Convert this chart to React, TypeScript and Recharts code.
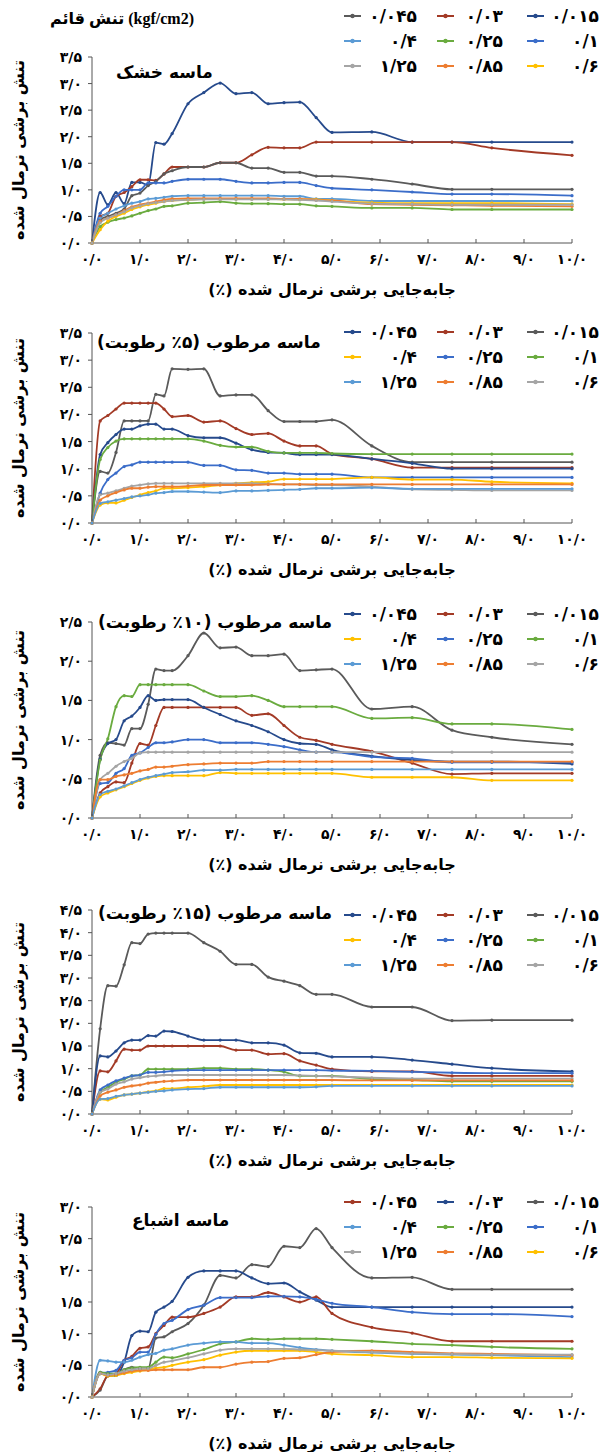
import React from "react";
import { LineChart, Line, XAxis, YAxis } from "recharts";

// shared x grid (normalized shear displacement, %)
const X = [0, 0.17, 0.33, 0.5, 0.67, 0.83, 1.0, 1.17, 1.33, 1.5, 1.67, 2.0, 2.33, 2.67, 3.0, 3.33, 3.67, 4.0, 4.33, 4.67, 5.0, 5.83, 6.67, 7.5, 8.33, 10.0];

// normal stress levels (kgf/cm2), in legend order
const STRESSES = ["0.015", "0.03", "0.045", "0.1", "0.25", "0.4", "0.6", "0.85", "1.25"];

// panel 1 - dry sand
const p1_015 = [0, 0.95, 0.72, 0.95, 0.74, 1.14, 1.14, 1.09, 1.89, 1.86, 2.06, 2.62, 2.83, 3.01, 2.81, 2.83, 2.62, 2.64, 2.65, 2.36, 2.08, 2.09, 1.9, 1.9, 1.9, 1.9];
const p1_03 = [0, 0.5, 0.56, 0.88, 0.95, 1.06, 1.19, 1.19, 1.18, 1.3, 1.43, 1.43, 1.43, 1.51, 1.51, 1.66, 1.8, 1.79, 1.79, 1.9, 1.9, 1.9, 1.9, 1.9, 1.79, 1.65];
const p1_045 = [0, 0.44, 0.5, 0.56, 0.64, 0.89, 0.94, 1.08, 1.16, 1.3, 1.36, 1.43, 1.43, 1.51, 1.51, 1.41, 1.41, 1.33, 1.33, 1.26, 1.26, 1.2, 1.11, 1.01, 1.01, 1.01];
const p1_1 = [0, 0.56, 0.69, 0.88, 1.0, 1.0, 1.0, 1.13, 1.13, 1.13, 1.16, 1.2, 1.2, 1.2, 1.16, 1.13, 1.13, 1.14, 1.14, 1.08, 1.03, 1.0, 0.96, 0.92, 0.92, 0.89];
const p1_25 = [0, 0.31, 0.39, 0.44, 0.47, 0.51, 0.56, 0.61, 0.64, 0.69, 0.7, 0.75, 0.76, 0.78, 0.75, 0.74, 0.74, 0.73, 0.73, 0.7, 0.69, 0.66, 0.66, 0.63, 0.63, 0.63];
const p1_4 = [0, 0.47, 0.56, 0.64, 0.7, 0.75, 0.78, 0.83, 0.84, 0.86, 0.88, 0.89, 0.89, 0.89, 0.89, 0.89, 0.89, 0.88, 0.88, 0.83, 0.83, 0.79, 0.79, 0.79, 0.79, 0.79];
const p1_6 = [0, 0.25, 0.41, 0.5, 0.56, 0.63, 0.68, 0.72, 0.75, 0.78, 0.8, 0.81, 0.83, 0.83, 0.83, 0.83, 0.83, 0.82, 0.82, 0.82, 0.8, 0.76, 0.75, 0.75, 0.75, 0.73];
const p1_85 = [0, 0.41, 0.47, 0.53, 0.61, 0.68, 0.72, 0.75, 0.78, 0.81, 0.83, 0.84, 0.84, 0.84, 0.84, 0.84, 0.84, 0.83, 0.83, 0.81, 0.8, 0.73, 0.72, 0.71, 0.7, 0.69];
const p1_125 = [0, 0.38, 0.47, 0.53, 0.59, 0.66, 0.7, 0.74, 0.76, 0.78, 0.8, 0.81, 0.82, 0.82, 0.82, 0.82, 0.82, 0.82, 0.81, 0.8, 0.78, 0.74, 0.73, 0.72, 0.72, 0.72];

// panel 2 - moist sand 5%
const p2_015 = [0, 0.95, 0.92, 1.3, 1.88, 1.88, 1.88, 1.88, 2.37, 2.34, 2.84, 2.83, 2.84, 2.34, 2.36, 2.36, 2.07, 1.87, 1.87, 1.87, 1.9, 1.42, 1.12, 1.12, 1.12, 1.12];
const p2_03 = [0, 1.88, 1.98, 2.1, 2.21, 2.21, 2.21, 2.21, 2.21, 2.1, 1.96, 1.98, 1.86, 1.88, 1.74, 1.63, 1.65, 1.51, 1.42, 1.42, 1.27, 1.18, 1.02, 1.02, 1.02, 1.02];
const p2_045 = [0, 1.26, 1.48, 1.63, 1.73, 1.73, 1.79, 1.82, 1.82, 1.73, 1.73, 1.61, 1.57, 1.57, 1.47, 1.35, 1.3, 1.29, 1.26, 1.26, 1.26, 1.18, 1.1, 1.0, 1.0, 1.0];
const p2_1 = [0, 1.17, 1.39, 1.51, 1.55, 1.55, 1.55, 1.55, 1.55, 1.55, 1.55, 1.55, 1.51, 1.43, 1.4, 1.4, 1.32, 1.29, 1.29, 1.29, 1.28, 1.27, 1.27, 1.27, 1.27, 1.27];
const p2_25 = [0, 0.55, 0.8, 0.92, 1.04, 1.07, 1.12, 1.12, 1.12, 1.12, 1.12, 1.12, 1.06, 1.06, 0.98, 0.97, 0.92, 0.92, 0.9, 0.9, 0.9, 0.84, 0.84, 0.84, 0.84, 0.84];
const p2_4 = [0, 0.33, 0.37, 0.37, 0.42, 0.47, 0.52, 0.56, 0.59, 0.64, 0.64, 0.65, 0.67, 0.7, 0.73, 0.75, 0.76, 0.81, 0.81, 0.81, 0.81, 0.84, 0.8, 0.8, 0.76, 0.73];
const p2_6 = [0, 0.52, 0.55, 0.59, 0.64, 0.68, 0.7, 0.72, 0.73, 0.73, 0.73, 0.73, 0.73, 0.73, 0.73, 0.73, 0.72, 0.71, 0.71, 0.7, 0.7, 0.67, 0.62, 0.61, 0.6, 0.6];
const p2_85 = [0, 0.42, 0.5, 0.56, 0.61, 0.64, 0.64, 0.66, 0.67, 0.67, 0.67, 0.68, 0.7, 0.7, 0.7, 0.7, 0.71, 0.71, 0.71, 0.71, 0.71, 0.71, 0.71, 0.71, 0.71, 0.71];
const p2_125 = [0, 0.36, 0.39, 0.42, 0.45, 0.48, 0.5, 0.52, 0.55, 0.56, 0.58, 0.58, 0.57, 0.56, 0.59, 0.59, 0.6, 0.61, 0.62, 0.64, 0.64, 0.65, 0.63, 0.63, 0.63, 0.63];

// panel 3 - moist sand 10%
const p3_015 = [0, 0.8, 0.96, 0.95, 0.93, 1.14, 1.14, 1.45, 1.9, 1.88, 1.88, 2.07, 2.36, 2.17, 2.18, 2.07, 2.07, 2.09, 1.88, 1.89, 1.9, 1.39, 1.42, 1.12, 1.03, 0.94];
const p3_03 = [0, 0.32, 0.4, 0.46, 0.45, 0.7, 0.95, 0.93, 1.18, 1.41, 1.41, 1.41, 1.41, 1.41, 1.41, 1.31, 1.33, 1.18, 1.03, 0.99, 0.94, 0.85, 0.7, 0.56, 0.57, 0.57];
const p3_045 = [0, 0.75, 0.95, 1.0, 1.24, 1.3, 1.41, 1.56, 1.5, 1.51, 1.51, 1.51, 1.41, 1.32, 1.24, 1.18, 1.1, 1.0, 0.95, 0.94, 0.87, 0.79, 0.74, 0.72, 0.72, 0.69];
const p3_1 = [0, 0.74, 1.01, 1.42, 1.56, 1.55, 1.7, 1.7, 1.7, 1.7, 1.7, 1.7, 1.62, 1.55, 1.55, 1.56, 1.5, 1.42, 1.42, 1.42, 1.42, 1.27, 1.28, 1.2, 1.2, 1.13];
const p3_25 = [0, 0.44, 0.45, 0.57, 0.63, 0.8, 0.83, 0.9, 0.96, 0.96, 0.97, 1.0, 1.0, 0.96, 0.96, 0.96, 0.94, 0.91, 0.87, 0.84, 0.84, 0.78, 0.76, 0.71, 0.71, 0.71];
const p3_4 = [0, 0.27, 0.32, 0.36, 0.4, 0.44, 0.48, 0.51, 0.53, 0.54, 0.54, 0.54, 0.54, 0.58, 0.57, 0.57, 0.57, 0.57, 0.57, 0.57, 0.57, 0.52, 0.52, 0.52, 0.48, 0.48];
const p3_6 = [0, 0.49, 0.57, 0.66, 0.72, 0.76, 0.83, 0.84, 0.84, 0.84, 0.84, 0.84, 0.84, 0.84, 0.84, 0.84, 0.84, 0.84, 0.84, 0.84, 0.84, 0.84, 0.84, 0.84, 0.84, 0.84];
const p3_85 = [0, 0.49, 0.49, 0.53, 0.55, 0.57, 0.6, 0.62, 0.65, 0.65, 0.66, 0.68, 0.69, 0.7, 0.7, 0.7, 0.72, 0.72, 0.72, 0.72, 0.72, 0.72, 0.72, 0.72, 0.72, 0.72];
const p3_125 = [0, 0.3, 0.34, 0.37, 0.41, 0.45, 0.49, 0.52, 0.54, 0.56, 0.58, 0.59, 0.61, 0.61, 0.62, 0.62, 0.62, 0.62, 0.62, 0.62, 0.62, 0.62, 0.62, 0.62, 0.62, 0.62];

// panel 4 - moist sand 15%
const p4_015 = [0, 1.88, 2.83, 2.82, 3.29, 3.78, 3.76, 3.97, 3.99, 3.99, 3.99, 3.99, 3.78, 3.59, 3.3, 3.3, 3.02, 2.93, 2.83, 2.64, 2.64, 2.36, 2.36, 2.06, 2.07, 2.07];
const p4_03 = [0, 0.95, 0.93, 1.17, 1.43, 1.41, 1.41, 1.5, 1.5, 1.5, 1.5, 1.5, 1.5, 1.5, 1.41, 1.41, 1.32, 1.33, 1.17, 1.08, 0.99, 0.94, 0.94, 0.84, 0.84, 0.84];
const p4_045 = [0, 1.28, 1.26, 1.39, 1.57, 1.63, 1.63, 1.73, 1.72, 1.83, 1.82, 1.72, 1.63, 1.63, 1.63, 1.57, 1.57, 1.52, 1.35, 1.34, 1.26, 1.26, 1.19, 1.1, 1.01, 0.94];
const p4_1 = [0, 0.48, 0.59, 0.7, 0.77, 0.84, 0.86, 0.99, 0.99, 0.99, 0.99, 0.99, 1.01, 1.01, 0.99, 0.99, 0.97, 0.93, 0.84, 0.84, 0.84, 0.77, 0.75, 0.72, 0.72, 0.72];
const p4_25 = [0, 0.53, 0.64, 0.73, 0.79, 0.84, 0.86, 0.92, 0.92, 0.93, 0.95, 0.97, 0.97, 0.97, 0.97, 0.97, 0.97, 0.97, 0.97, 0.97, 0.96, 0.95, 0.93, 0.91, 0.9, 0.9];
const p4_4 = [0, 0.33, 0.31, 0.37, 0.42, 0.44, 0.46, 0.49, 0.51, 0.56, 0.56, 0.59, 0.61, 0.64, 0.64, 0.64, 0.64, 0.64, 0.64, 0.64, 0.64, 0.64, 0.64, 0.64, 0.64, 0.64];
const p4_6 = [0, 0.48, 0.55, 0.66, 0.71, 0.77, 0.8, 0.83, 0.84, 0.86, 0.86, 0.86, 0.86, 0.86, 0.86, 0.86, 0.86, 0.86, 0.85, 0.84, 0.83, 0.8, 0.78, 0.78, 0.78, 0.78];
const p4_85 = [0, 0.4, 0.48, 0.53, 0.59, 0.62, 0.64, 0.68, 0.7, 0.72, 0.73, 0.75, 0.75, 0.75, 0.75, 0.75, 0.75, 0.75, 0.75, 0.75, 0.75, 0.74, 0.74, 0.74, 0.74, 0.74];
const p4_125 = [0, 0.33, 0.34, 0.39, 0.42, 0.44, 0.46, 0.48, 0.5, 0.51, 0.53, 0.55, 0.56, 0.59, 0.59, 0.59, 0.59, 0.59, 0.59, 0.6, 0.62, 0.62, 0.62, 0.62, 0.62, 0.62];

// panel 5 - saturated sand
const p5_015 = [0, 0.11, 0.33, 0.34, 0.43, 0.47, 0.45, 0.45, 0.93, 0.95, 1.03, 1.16, 1.45, 1.92, 1.88, 2.09, 2.06, 2.38, 2.36, 2.66, 2.36, 1.88, 1.89, 1.7, 1.7, 1.7];
const p5_03 = [0, 0.39, 0.37, 0.34, 0.55, 0.97, 1.04, 1.03, 1.34, 1.42, 1.51, 1.89, 1.99, 1.99, 1.99, 1.88, 1.79, 1.8, 1.66, 1.53, 1.42, 1.42, 1.42, 1.42, 1.42, 1.42];
const p5_045 = [0, 0.13, 0.34, 0.37, 0.58, 0.64, 0.77, 0.79, 1.0, 1.13, 1.26, 1.26, 1.32, 1.42, 1.58, 1.58, 1.65, 1.58, 1.5, 1.58, 1.32, 1.1, 1.01, 0.88, 0.88, 0.88];
const p5_1 = [0, 0.37, 0.39, 0.42, 0.58, 0.62, 0.71, 0.71, 0.99, 1.16, 1.21, 1.38, 1.45, 1.57, 1.57, 1.57, 1.59, 1.59, 1.58, 1.54, 1.48, 1.42, 1.34, 1.31, 1.31, 1.27];
const p5_25 = [0, 0.39, 0.37, 0.37, 0.43, 0.46, 0.47, 0.47, 0.55, 0.63, 0.62, 0.68, 0.75, 0.84, 0.87, 0.92, 0.91, 0.92, 0.92, 0.92, 0.91, 0.88, 0.84, 0.82, 0.79, 0.76];
const p5_4 = [0, 0.58, 0.57, 0.55, 0.55, 0.58, 0.63, 0.67, 0.69, 0.74, 0.76, 0.82, 0.85, 0.87, 0.87, 0.85, 0.85, 0.82, 0.78, 0.75, 0.73, 0.7, 0.68, 0.67, 0.66, 0.63];
const p5_6 = [0, 0.37, 0.33, 0.34, 0.37, 0.39, 0.41, 0.43, 0.46, 0.47, 0.5, 0.55, 0.59, 0.66, 0.71, 0.73, 0.73, 0.73, 0.73, 0.71, 0.68, 0.66, 0.63, 0.63, 0.62, 0.61];
const p5_85 = [0, 0.37, 0.34, 0.36, 0.38, 0.41, 0.42, 0.42, 0.43, 0.43, 0.43, 0.43, 0.47, 0.47, 0.52, 0.55, 0.56, 0.61, 0.62, 0.67, 0.71, 0.73, 0.71, 0.69, 0.68, 0.66];
const p5_125 = [0, 0.37, 0.35, 0.37, 0.41, 0.43, 0.45, 0.45, 0.5, 0.55, 0.57, 0.62, 0.68, 0.74, 0.76, 0.76, 0.76, 0.76, 0.75, 0.74, 0.73, 0.71, 0.69, 0.68, 0.67, 0.67];

const DARK_BLUE = "#264a8c";
const DARK_RED = "#a33a26";
const DARK_GRAY = "#5a5a5a";
const BLUE = "#3b6dc9";
const GREEN = "#6aab3f";
const LIGHT_BLUE = "#5b9bd5";
const GOLD = "#ffc000";
const ORANGE = "#ed7d31";
const GRAY = "#a5a5a5";

const FONT = "'DejaVu Sans', 'Noto Sans', sans-serif";
const Y_TITLE = "تنش برشی نرمال شده";
const X_TITLE = "جابه‌جایی برشی نرمال شده (٪)\u200F";
const TOP_TITLE = "تنش قائم (kgf/cm2)";

const FA = "۰۱۲۳۴۵۶۷۸۹";
const fa = (s: string) => s.replace(/\d/g, (d) => FA[+d]);
const fmt = (v: number) => fa(v.toFixed(1)).replace(".", "/");
const legendName = (s: string) => fa(s).replace(".", "/");

const panels = [
  {
    label: "ماسه خشک",
    labelLeft: 116,
    labelY: 72,
    yMax: 3.5,
    plotTop: 57,
    plotBottom: 243,
    legendY: 16,
    colors: [DARK_BLUE, DARK_RED, DARK_GRAY, BLUE, GREEN, LIGHT_BLUE, GOLD, ORANGE, GRAY],
    series: [p1_015, p1_03, p1_045, p1_1, p1_25, p1_4, p1_6, p1_85, p1_125],
  },
  {
    label: "ماسه مرطوب (۵٪ رطوبت)",
    labelLeft: 97,
    labelY: 342,
    yMax: 3.5,
    plotTop: 333,
    plotBottom: 523,
    legendY: 332,
    colors: [DARK_GRAY, DARK_RED, DARK_BLUE, GREEN, BLUE, GOLD, GRAY, ORANGE, LIGHT_BLUE],
    series: [p2_015, p2_03, p2_045, p2_1, p2_25, p2_4, p2_6, p2_85, p2_125],
  },
  {
    label: "ماسه مرطوب (۱۰٪ رطوبت)",
    labelLeft: 98,
    labelY: 622,
    yMax: 2.5,
    plotTop: 622,
    plotBottom: 818,
    legendY: 614,
    colors: [DARK_GRAY, DARK_RED, DARK_BLUE, GREEN, BLUE, GOLD, GRAY, ORANGE, LIGHT_BLUE],
    series: [p3_015, p3_03, p3_045, p3_1, p3_25, p3_4, p3_6, p3_85, p3_125],
  },
  {
    label: "ماسه مرطوب (۱۵٪ رطوبت)",
    labelLeft: 98,
    labelY: 913,
    yMax: 4.5,
    plotTop: 910,
    plotBottom: 1114,
    legendY: 915,
    colors: [DARK_GRAY, DARK_RED, DARK_BLUE, GREEN, BLUE, GOLD, GRAY, ORANGE, LIGHT_BLUE],
    series: [p4_015, p4_03, p4_045, p4_1, p4_25, p4_4, p4_6, p4_85, p4_125],
  },
  {
    label: "ماسه اشباع",
    labelLeft: 132,
    labelY: 1220,
    yMax: 3.0,
    plotTop: 1207,
    plotBottom: 1397,
    legendY: 1202,
    colors: [DARK_GRAY, DARK_BLUE, DARK_RED, BLUE, GREEN, LIGHT_BLUE, GOLD, ORANGE, GRAY],
    series: [p5_015, p5_03, p5_045, p5_1, p5_25, p5_4, p5_6, p5_85, p5_125],
  },
];

// legend grid: rows of series indexes, left to right
const LEGEND_ROWS = [
  [2, 1, 0],
  [5, 4, 3],
  [8, 7, 6],
];
const LEGEND_COLS = [
  { marker: 344, textRight: 417 },
  { marker: 437, textRight: 503 },
  { marker: 527, textRight: 599 },
];

function Marker({ color }: { color: string }) {
  return (
    <svg width={17} height={8} style={{ display: "block" }}>
      <line x1={0} y1={4} x2={17} y2={4} stroke={color} strokeWidth={2} />
      <circle cx={8.5} cy={4} r={2.2} fill={color} />
    </svg>
  );
}

function Panel({ p }: { p: (typeof panels)[number] }) {
  const rows = X.map((x, i) => {
    const r: Record<string, number> = { x };
    p.series.forEach((s, k) => (r[`s${k}`] = s[i]));
    return r;
  });
  const yTicks: number[] = [];
  for (let v = 0; v <= p.yMax + 1e-9; v += 0.5) yTicks.push(+v.toFixed(1));
  const plotH = p.plotBottom - p.plotTop;
  const textStyle = { fontFamily: FONT, fontWeight: 700, color: "#000" } as const;

  return (
    <>
      <div style={{ position: "absolute", left: 0, top: p.plotTop - 10 }}>
        <LineChart width={603} height={plotH + 70} data={rows} margin={{ top: 10, right: 31, left: 0, bottom: 0 }}>
          <XAxis
            dataKey="x"
            type="number"
            domain={[0, 10]}
            ticks={[0, 1, 2, 3, 4, 5, 6, 7, 8, 9, 10]}
            interval={0}
            tickFormatter={fmt}
            height={60}
            tickSize={-4}
            tickMargin={15}
            stroke="#555"
            tick={{ fill: "#000", fontSize: 14, fontWeight: 700, fontFamily: FONT }}
            label={{
              value: X_TITLE,
              position: "insideBottom",
              offset: 8,
              style: { fill: "#000", fontSize: 16, fontWeight: 700, fontFamily: FONT, direction: "rtl" },
            }}
          />
          <YAxis
            type="number"
            domain={[0, p.yMax]}
            ticks={yTicks}
            interval={0}
            tickFormatter={fmt}
            width={92}
            tickSize={4}
            tickMargin={6}
            stroke="#555"
            tick={{ fill: "#000", fontSize: 14, fontWeight: 700, fontFamily: FONT }}
            label={{
              value: Y_TITLE,
              angle: -90,
              position: "insideLeft",
              offset: 18,
              style: { textAnchor: "middle", fill: "#000", fontSize: 16, fontWeight: 700, fontFamily: FONT },
            }}
          />
          {p.series.map((_, k) => (
            <Line
              key={k}
              dataKey={`s${k}`}
              type="monotone"
              stroke={p.colors[k]}
              strokeWidth={1.8}
              dot={{ r: 1.6, fill: p.colors[k], stroke: p.colors[k], strokeWidth: 0 }}
              activeDot={false}
              isAnimationActive={false}
            />
          ))}
        </LineChart>
      </div>
      <div
        dir="rtl"
        style={{
          ...textStyle,
          position: "absolute",
          left: p.labelLeft,
          top: p.labelY - 11,
          fontSize: 17,
          lineHeight: "22px",
          whiteSpace: "nowrap",
        }}
      >
        {p.label}
      </div>
      {LEGEND_ROWS.map((row, ri) =>
        row.map((si, ci) => {
          const col = LEGEND_COLS[ci];
          const cy = p.legendY + ri * 25;
          return (
            <div key={`${ri}-${ci}`}>
              <div style={{ position: "absolute", left: col.marker, top: cy - 4 }}>
                <Marker color={p.colors[si]} />
              </div>
              <div
                style={{
                  ...textStyle,
                  position: "absolute",
                  left: col.marker + 19,
                  width: col.textRight - col.marker - 19,
                  textAlign: "right",
                  top: cy - 11,
                  fontSize: 17,
                  lineHeight: "22px",
                }}
              >
                {legendName(STRESSES[si])}
              </div>
            </div>
          );
        })
      )}
    </>
  );
}

export default function App() {
  return (
    <div style={{ position: "relative", width: 603, height: 1452, background: "#fff", overflow: "hidden" }}>
      <style>{"body{margin:0}"}</style>
      <div
        style={{
          position: "absolute",
          left: 50,
          top: 9,
          fontFamily: "'Liberation Serif', 'DejaVu Sans', serif",
          fontWeight: 700,
          fontSize: 16,
          lineHeight: "20px",
          whiteSpace: "nowrap",
          direction: "ltr",
        }}
      >
        {TOP_TITLE}
      </div>
      {panels.map((p, i) => (
        <Panel key={i} p={p} />
      ))}
    </div>
  );
}
